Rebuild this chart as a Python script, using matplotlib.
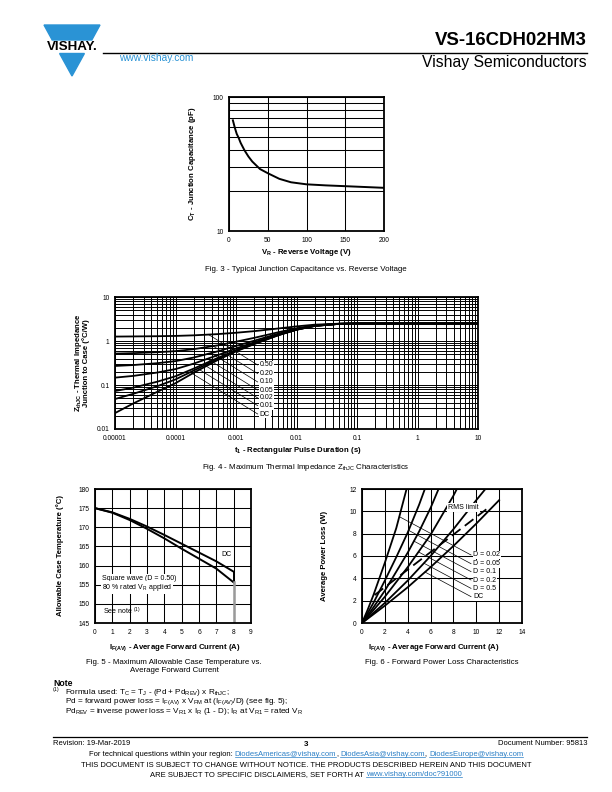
import numpy as np
import matplotlib
matplotlib.use("Agg")
import matplotlib.pyplot as plt
from matplotlib.ticker import LogLocator, NullFormatter, FixedLocator
from matplotlib.patches import Polygon
from matplotlib.lines import Line2D

plt.rcParams['font.family'] = ['Liberation Sans', 'DejaVu Sans']
plt.rcParams['mathtext.fontset'] = 'custom'
plt.rcParams['mathtext.rm'] = 'Liberation Sans'
plt.rcParams['mathtext.it'] = 'Liberation Sans:italic'
plt.rcParams['mathtext.bf'] = 'Liberation Sans:bold'

# ---------------- data ----------------
# Fig. 3 junction capacitance
vr = [5, 7.5, 10, 12.5, 15, 20, 25, 30, 40, 50, 65, 80, 100, 125, 150, 175, 200]
ct = [67, 59, 53, 49.5, 45.5, 40, 36, 33, 29, 27, 24.5, 23.1, 22.3, 21.9, 21.6, 21.3, 21.0]
vr_ticks = [0, 50, 100, 150, 200]

# Fig. 4 thermal impedance
t_pulse = [1e-5, 2e-5, 5e-5, 1e-4, 2e-4, 5e-4, 1e-3, 2e-3, 5e-3, 1e-2, 2e-2, 5e-2, 0.1, 1, 10]
z_d050 = [1.26, 1.27, 1.285, 1.305, 1.345, 1.435, 1.54, 1.675, 1.925, 2.15, 2.35, 2.475, 2.5, 2.5, 2.5]
z_d020 = [0.518, 0.530, 0.556, 0.588, 0.652, 0.796, 0.964, 1.18, 1.58, 1.94, 2.26, 2.46, 2.5, 2.5, 2.5]
z_d010 = [0.271, 0.284, 0.313, 0.349, 0.421, 0.583, 0.772, 1.015, 1.465, 1.87, 2.23, 2.455, 2.5, 2.5, 2.5]
z_d005 = [0.147, 0.161, 0.192, 0.230, 0.306, 0.477, 0.676, 0.933, 1.408, 1.835, 2.215, 2.453, 2.5, 2.5, 2.5]
z_d002 = [0.073, 0.087, 0.119, 0.158, 0.236, 0.413, 0.618, 0.883, 1.373, 1.814, 2.206, 2.451, 2.5, 2.5, 2.5]
z_d001 = [0.048, 0.063, 0.094, 0.134, 0.213, 0.391, 0.599, 0.867, 1.362, 1.807, 2.203, 2.45, 2.5, 2.5, 2.5]
z_dc = [0.023, 0.038, 0.07, 0.11, 0.19, 0.37, 0.58, 0.85, 1.35, 1.8, 2.2, 2.45, 2.5, 2.5, 2.5]
z_names = ["0.50", "0.20", "0.10", "0.05", "0.02", "0.01", "DC"]
z_label_y = [0.285, 0.181, 0.117, 0.0769, 0.0507, 0.0339, 0.0219]
z_label_t = 2.45e-3
t_ticks = [1e-5, 1e-4, 1e-3, 1e-2, 1e-1, 1, 10]
t_ticklabels = ["0.00001", "0.0001", "0.001", "0.01", "0.1", "1", "10"]
z_ticks = [0.01, 0.1, 1, 10]
z_ticklabels = ["0.01", "0.1", "1", "10"]

# Fig. 5 allowable case temperature
if5 = [0, 1, 2, 3, 4, 5, 6, 7, 8]
tc_dc = [175, 173.9, 172.2, 170.2, 168.0, 165.7, 163.4, 161.1, 158.4]
tc_sq = [175, 173.8, 171.9, 169.6, 167.1, 164.4, 161.8, 159.2, 155.6]

# Fig. 6 forward power loss
i_d002 = [0, 0.5, 1, 2, 3, 3.9]
p_d002 = [0, 1.2, 2.5, 5.4, 8.5, 12]
i_d005 = [0, 1, 2, 3, 4, 5, 5.5]
p_d005 = [0, 1.8, 3.8, 5.9, 8.1, 10.6, 12]
i_d01 = [0, 1, 2, 3, 4, 5, 6, 6.7]
p_d01 = [0, 1.4, 2.9, 4.6, 6.3, 8.2, 10.3, 12]
i_d02 = [0, 1, 2, 4, 6, 8, 8.3]
p_d02 = [0, 1.15, 2.35, 5.0, 7.9, 11.4, 12]
i_d05 = [0, 2, 4, 6, 8, 10, 10.8]
p_d05 = [0, 1.8, 3.8, 6.0, 8.4, 11.0, 12]
i_dc = [0, 2, 4, 6, 8, 10, 12]
p_dc = [0, 1.55, 3.2, 5.0, 6.9, 8.9, 11.0]
i_rms = [1.1, 10.9]
p_rms = [2.5, 10.2]
p_names = ["D = 0.02", "D = 0.05", "D = 0.1", "D = 0.2", "D = 0.5", "DC"]
p_label_y = [6.09, 5.31, 4.6, 3.85, 3.1, 2.36]
p_label_x = 9.74

# ---------------- figure ----------------
W, H = 612, 792
fig = plt.figure(figsize=(W / 100, H / 100), dpi=100)
fig.patch.set_facecolor('white')


def fx(x):
    return x / W


def fy(y):
    return 1 - y / H


def ax_at(l, t, r, b):
    return fig.add_axes([l / W, 1 - b / H, (r - l) / W, (b - t) / H])


def ftext(x, y, s, **kw):
    return fig.text(fx(x), fy(y), s, **kw)


GRID = dict(color='black', lw=0.75)
TICK = 4.8
LAB = 5.6
CAP = 5.7


def style(ax):
    for sp in ax.spines.values():
        sp.set_linewidth(1.3)
    ax.tick_params(which='both', length=0, labelsize=TICK, pad=4)
    ax.set_axisbelow(True)


# ---- header ----
blue = '#2a93d5'
fig.add_artist(Polygon([(fx(44), fy(25)), (fx(100), fy(25)), (fx(91.8), fy(40)), (fx(52.2), fy(40))],
                       closed=True, color=blue, transform=fig.transFigure))
fig.add_artist(Polygon([(fx(59.6), fy(53.5)), (fx(84.4), fy(53.5)), (fx(72), fy(76))],
                       closed=True, color=blue, transform=fig.transFigure))
ftext(72, 47, "VISHAY.", fontsize=9.6, fontweight='bold', ha='center', va='center', color='black')
ftext(119, 58, "www.vishay.com", fontsize=7.3, color=blue, ha='left', va='center')
fig.add_artist(Line2D([fx(103), fx(587)], [fy(52.5), fy(52.5)], color='black', lw=1.0))
ftext(587, 40.5, "VS-16CDH02HM3", fontsize=13.4, fontweight='bold', ha='right', va='center')
ftext(587, 62, "Vishay Semiconductors", fontsize=11.3, ha='right', va='center')

# ---- Fig. 3 ----
ax3 = ax_at(229, 97, 384, 231)
ax3.set_yscale('log')
ax3.set_xlim(0, 200)
ax3.set_ylim(10, 100)
ax3.set_xticks(vr_ticks)
ax3.set_yticks([10, 100])
ax3.set_yticklabels(['10', '100'])
ax3.yaxis.set_minor_locator(LogLocator(base=10, subs=np.arange(2, 10)))
ax3.yaxis.set_minor_formatter(NullFormatter())
ax3.grid(True, which='both', **GRID)
style(ax3)
ax3.plot(vr, ct, color='black', lw=1.4)
ftext(193, 164, r"$\mathbf{C_T}$ - Junction Capacitance (pF)", fontsize=LAB, fontweight='bold',
      rotation=90, ha='center', va='center')
ftext(306.5, 252, r"$\mathbf{V_R}$ - Reverse Voltage (V)", fontsize=LAB, fontweight='bold', ha='center', va='center')
ftext(306, 270, "Fig. 3 - Typical Junction Capacitance vs. Reverse Voltage", fontsize=CAP, ha='center', va='center')

# ---- Fig. 4 ----
ax4 = ax_at(115, 297, 478, 429)
ax4.set_xscale('log')
ax4.set_yscale('log')
ax4.set_xlim(t_ticks[0], t_ticks[-1])
ax4.set_ylim(z_ticks[0], z_ticks[-1])
ax4.xaxis.set_major_locator(FixedLocator(t_ticks))
ax4.set_xticklabels(t_ticklabels)
ax4.yaxis.set_major_locator(FixedLocator(z_ticks))
ax4.set_yticklabels(z_ticklabels)
for a in (ax4.xaxis, ax4.yaxis):
    a.set_minor_locator(LogLocator(base=10, subs=np.arange(2, 10), numticks=50))
    a.set_minor_formatter(NullFormatter())
ax4.grid(True, which='both', color='black', lw=0.7)
style(ax4)
z_series = [z_d050, z_d020, z_d010, z_d005, z_d002, z_d001, z_dc]
lt = np.log10(t_pulse)
for zs, name, ly in zip(z_series, z_names, z_label_y):
    ax4.plot(t_pulse, zs, color='black', lw=1.3, solid_capstyle='butt')
    # leader line toward the curve
    x0 = np.log10(z_label_t) - 0.03
    y0 = np.log10(ly)
    xs = np.linspace(x0, -5, 3000)
    yline = y0 - 0.85 * (xs - x0)
    ycur = np.interp(xs, lt, np.log10(zs))
    idx = np.argmax(ycur <= yline)
    ax4.plot([10 ** x0, 10 ** xs[idx]], [10 ** y0, 10 ** yline[idx]], color='black', lw=0.5)
    ax4.text(z_label_t, ly, name, fontsize=5, ha='left', va='center',
             bbox=dict(facecolor='white', edgecolor='none', pad=0.6))
ftext(78, 363, r"$\mathbf{Z_{thJC}}$ - Thermal Impedance", fontsize=LAB, fontweight='bold',
      rotation=90, ha='center', va='center')
ftext(86, 363, "Junction to Case (°C/W)", fontsize=LAB, fontweight='bold',
      rotation=90, ha='center', va='center')
ftext(298, 450, r"$\mathbf{t_1}$ - Rectangular Pulse Duration (s)", fontsize=LAB, fontweight='bold',
      ha='center', va='center')
ftext(306, 467.5, r"Fig. 4 - Maximum Thermal Impedance Z$_\mathregular{thJC}$ Characteristics", fontsize=CAP,
      ha='center', va='center')

# ---- Fig. 5 ----
ax5 = ax_at(95, 489, 251, 623)
ax5.set_xlim(0, 9)
ax5.set_ylim(145, 180)
ax5.set_xticks(range(0, 10))
ax5.set_yticks(range(145, 181, 5))
ax5.grid(True, **GRID)
style(ax5)
ax5.plot(if5, tc_dc, color='black', lw=1.4)
ax5.plot(if5, tc_sq, color='black', lw=1.4)
ax5.plot([if5[-1], if5[-1]], [tc_dc[-1], tc_sq[-1]], color='black', lw=1.4)
ax5.plot([if5[-1], if5[-1]], [tc_sq[-1], 145], color='#9a9a9a', lw=1.8)
ax5.text(7.3, 162.8, "DC", fontsize=5, ha='left', va='center')
ax5.text(0.39, 156.6, "Square wave (D = 0.50)", fontsize=5, ha='left', va='center',
         bbox=dict(facecolor='white', edgecolor='none', pad=0.5))
ax5.text(0.39, 154.3, r"80 % rated V$_\mathregular{R}$ applied", fontsize=5, ha='left', va='center',
         bbox=dict(facecolor='white', edgecolor='none', pad=0.5))
ax5.text(0.45, 148, r"See note $^\mathregular{(1)}$", fontsize=5, ha='left', va='center')
ftext(60, 556, "Allowable Case Temperature (°C)", fontsize=LAB, fontweight='bold',
      rotation=90, ha='center', va='center')
ftext(175, 648, r"$\mathbf{I_{F(AV)}}$ - Average Forward Current (A)", fontsize=LAB, fontweight='bold',
      ha='center', va='center')
ftext(174, 662, "Fig. 5 - Maximum Allowable Case Temperature vs.", fontsize=CAP, ha='center', va='center')
ftext(174, 670, "Average Forward Current", fontsize=CAP, ha='center', va='center')

# ---- Fig. 6 ----
ax6 = ax_at(362, 489, 522, 623)
ax6.set_xlim(0, 14)
ax6.set_ylim(0, 12)
ax6.set_xticks(range(0, 15, 2))
ax6.set_yticks(range(0, 13, 2))
ax6.grid(True, **GRID)
style(ax6)
p_series = [(i_d002, p_d002), (i_d005, p_d005), (i_d01, p_d01), (i_d02, p_d02), (i_d05, p_d05), (i_dc, p_dc)]
for (ii, pp), name, ly in zip(p_series, p_names, p_label_y):
    ax6.plot(ii, pp, color='black', lw=1.3)
    x0 = p_label_x - 0.2
    xs = np.linspace(x0, 0.01, 3000)
    yline = ly - 0.547 * (xs - x0)
    ycur = np.interp(xs, ii, pp, right=1e9)
    idx = np.argmax(ycur <= yline)
    ax6.plot([x0, xs[idx]], [ly, yline[idx]], color='black', lw=0.5)
    ax6.text(p_label_x, ly, name, fontsize=5, ha='left', va='center',
             bbox=dict(facecolor='white', edgecolor='none', pad=0.5))
ax6.plot(i_rms, p_rms, color='black', lw=1.3, dashes=(6, 3))
ax6.text(8.86, 10.36, "RMS limit", fontsize=5, ha='center', va='center',
         bbox=dict(facecolor='white', edgecolor='none', pad=0.8))
ftext(325, 556, "Average Power Loss (W)", fontsize=LAB, fontweight='bold',
      rotation=90, ha='center', va='center')
ftext(434, 648, r"$\mathbf{I_{F(AV)}}$ - Average Forward Current (A)", fontsize=LAB, fontweight='bold',
      ha='center', va='center')
ftext(442, 662, "Fig. 6 - Forward Power Loss Characteristics", fontsize=CAP, ha='center', va='center')

# ---- Note ----
ftext(53, 684, "Note", fontsize=6.2, fontweight='bold', ha='left', va='center')
ftext(53, 690, "(1)", fontsize=3.8, ha='left', va='center')
NOTE = 5.9
ftext(65, 692.5, r"Formula used: T$_\mathregular{C}$ = T$_\mathregular{J}$ - (Pd + Pd$_\mathregular{REV}$) x R$_\mathregular{thJC}$;",
      fontsize=NOTE, ha='left', va='center')
ftext(65, 702, r"Pd = forward power loss = I$_\mathregular{F(AV)}$ x V$_\mathregular{FM}$ at (I$_\mathregular{F(AV)}$/D) (see fig. 5);",
      fontsize=NOTE, ha='left', va='center')
ftext(65, 711.5, r"Pd$_\mathregular{REV}$ = inverse power loss = V$_\mathregular{R1}$ x I$_\mathregular{R}$ (1 - D); I$_\mathregular{R}$ at V$_\mathregular{R1}$ = rated V$_\mathregular{R}$",
      fontsize=NOTE, ha='left', va='center')

# ---- footer ----
fig.add_artist(Line2D([fx(53), fx(587)], [fy(737), fy(737)], color='black', lw=0.9))
ftext(53, 743.5, "Revision: 19-Mar-2019", fontsize=5.5, ha='left', va='center')
ftext(306, 744.5, "3", fontsize=5.8, fontweight='bold', ha='center', va='center')
ftext(587, 743.5, "Document Number: 95813", fontsize=5.5, ha='right', va='center')

renderer = fig.canvas.get_renderer()


def rich(y, pieces, size, cx):
    probe = fig.text(0, 0, "a a", fontsize=size)
    probe2 = fig.text(0, 0, "aa", fontsize=size)
    sw = probe.get_window_extent(renderer).width - probe2.get_window_extent(renderer).width
    probe.remove()
    probe2.remove()
    objs = []
    for s, col, ul in pieces:
        core = s.strip(' ')
        lead = len(s) - len(s.lstrip(' '))
        trail = len(s) - len(s.rstrip(' '))
        t = fig.text(0, fy(y), core, fontsize=size, color=col, ha='left', va='baseline')
        w = t.get_window_extent(renderer).width
        objs.append((t, ul, col, lead * sw, w, trail * sw))
    total = sum(o[3] + o[4] + o[5] for o in objs)
    x = cx - total / 2
    for t, ul, col, lw_, w, tw in objs:
        x += lw_
        t.set_x(fx(x))
        if ul:
            fig.add_artist(Line2D([fx(x), fx(x + w)], [fy(y + 1.3), fy(y + 1.3)], color=col, lw=0.5))
        x += w + tw


lb = '#2a7fc6'
rich(756, [("For technical questions within your region: ", 'black', False),
           ("DiodesAmericas@vishay.com", lb, True), (", ", 'black', False),
           ("DiodesAsia@vishay.com", lb, True), (", ", 'black', False),
           ("DiodesEurope@vishay.com", lb, True)], 5.5, 306)
rich(767, [("THIS DOCUMENT IS SUBJECT TO CHANGE WITHOUT NOTICE. THE PRODUCTS DESCRIBED HEREIN AND THIS DOCUMENT", 'black', False)], 5.5, 306)
rich(776, [("ARE SUBJECT TO SPECIFIC DISCLAIMERS, SET FORTH AT ", 'black', False),
           ("www.vishay.com/doc?91000", lb, True)], 5.5, 306)

fig.savefig("out.png", dpi=100)
